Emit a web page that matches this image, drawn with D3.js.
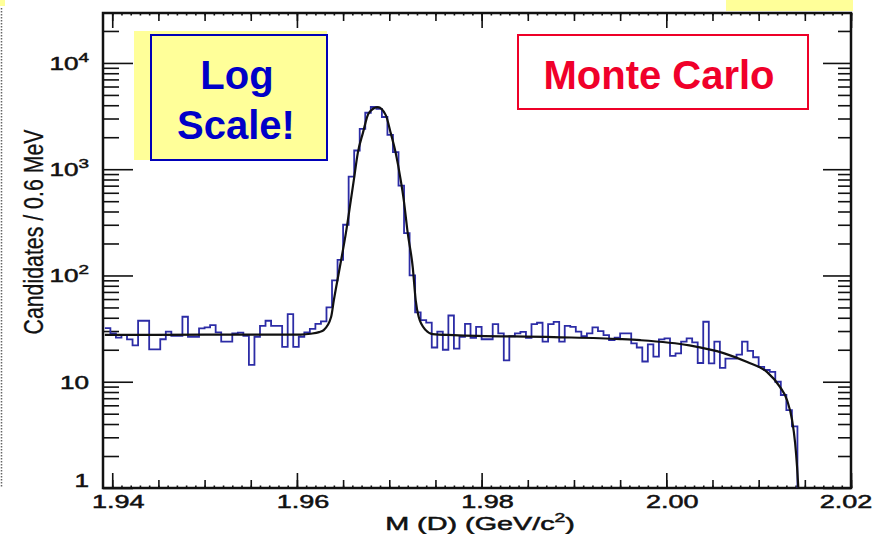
<!DOCTYPE html>
<html><head><meta charset="utf-8">
<script src="https://cdn.jsdelivr.net/npm/d3@7"></script>
<style>body{margin:0;background:#fff}svg{display:block}</style>
</head><body>
<svg id="c" width="887" height="534"></svg>
<script>
// ---- data ----
const binStart = 1.9392;   // GeV, low edge of first bin
const binWidth = 0.0006;   // 0.6 MeV
const counts = [
  32, 28.5, 26, 27.5, 25, 22, 37.5, 37.5, 20.2, 20.2,
  25.1, 29.6, 27.1, 27.1, 40.9, 26.5, 26.5, 31.8, 32.5, 34.1,
  29.2, 23.8, 23.8, 28.5, 29.0, 27.1, 14.4, 26.5, 33.6, 37.5,
  33.6, 33.6, 21.3, 43.3, 21.3, 26.5, 29.2, 31.5, 35, 37,
  50, 90, 140, 300, 850, 1500, 2400, 3400, 3850, 3700,
  3100, 2100, 1450, 700, 250, 100, 45, 38, 36, 21,
  29.6, 20, 42, 20.5, 26.5, 35, 25.9, 32.9, 25.1, 25.1,
  34.9, 28.5, 15.9, 26.8, 28.5, 29.4, 25.9, 34.9, 35.9, 23.8,
  34.9, 36.6, 23.8, 33.6, 32.9, 29.6, 26.8, 28.5, 32.5, 30,
  27.5, 24.7, 26, 28.5, 28.5, 23, 21, 15.5, 22.5, 17.2,
  25, 25.6, 17.5, 18.5, 23.8, 25.6, 23.5, 15, 36.7, 14.9,
  23.8, 13.5, 16.5, 16.5, 18, 23.8, 19.5, 17, 13.8, 12.9,
  12.4, 10, 7.5, 5.4, 3.8
];
const fitMass = [1.9392, 1.9500, 1.9604, 1.9615, 1.9624, 1.9629, 1.9637, 1.9640, 1.96465, 1.9653,
  1.96584, 1.96616, 1.96659, 1.96714, 1.96778, 1.96876, 1.96962, 1.97016, 1.9707, 1.97124,
  1.97157, 1.9720, 1.97254, 1.97286, 1.97319, 1.97395, 1.9747, 1.97697, 1.98778, 1.99503,
  1.99719, 2.0025, 2.0062, 2.00876, 2.01092, 2.01232, 2.01308, 2.01362, 2.01395, 2.01416, 2.0143];
const fitCount = [27.6, 27.7, 27.8, 28.3, 29.3, 30.6, 40.6, 58.7, 120, 250,
  512, 789, 1417, 2186, 3373, 3839, 3228, 2186, 1417, 789,
  512, 250, 120, 58.7, 40.6, 30.6, 28.1, 27.5, 26.3, 25.2,
  24.6, 22, 18.6, 15.3, 12.3, 8.9, 6.7, 4.36, 2.65, 1.58, 1.0];
const xTickValues = [1.94, 1.96, 1.98, 2.00, 2.02];
const xTickLabels = ["1.94", "1.96", "1.98", "2.00", "2.02"];
const yDecades = [1, 10, 100, 1000, 10000];
const yLabelBase = ["1", "10", "10", "10", "10"];
const yLabelExp = ["", "", "2", "3", "4"];

// ---- layout ----
const L = 103, R = 851, T = 13, B = 488;
const svg = d3.select("#c");
const x = d3.scaleLinear().domain([1.9390, 2.0200]).range([L, R]);
const y = d3.scaleLog().domain([1, Math.pow(10, 4.47)]).range([B, T]);

// decorations outside the plot
svg.append("rect").attr("x", 0).attr("y", 0).attr("width", 5).attr("height", 6).attr("fill", "#ffff99");
svg.append("rect").attr("x", 726).attr("y", 0).attr("width", 127).attr("height", 11).attr("fill", "#ffff99");
svg.append("line").attr("x1", 1.5).attr("x2", 1.5).attr("y1", 8).attr("y2", 487)
  .attr("stroke", "#666").attr("stroke-width", 1.5).attr("stroke-dasharray", "1.5,1.5");

const clip = svg.append("clipPath").attr("id", "plotclip");
clip.append("rect").attr("x", L).attr("y", T).attr("width", R - L).attr("height", B - T);

// ---- ticks ----
function styleAxis(g) {
  g.select(".domain").remove();
  g.selectAll("line").attr("stroke", "#111").attr("stroke-width", 1.6);
  g.selectAll("text").remove();
}
const xFine = d3.range(0, 81).map(i => 1.94 + i * 0.001).filter(v => v <= 2.0201);
const xMinor = d3.range(0, 17).map(i => 1.94 + i * 0.005);
// bottom
svg.append("g").attr("transform", `translate(0,${B})`).call(d3.axisBottom(x).tickValues(xFine).tickSizeInner(-2.5).tickSizeOuter(0)).call(styleAxis);
svg.append("g").attr("transform", `translate(0,${B})`).call(d3.axisBottom(x).tickValues(xMinor).tickSizeInner(-8).tickSizeOuter(0)).call(styleAxis);
svg.append("g").attr("transform", `translate(0,${B})`).call(d3.axisBottom(x).tickValues(xTickValues).tickSizeInner(-15).tickSizeOuter(0)).call(styleAxis);
// top
svg.append("g").attr("transform", `translate(0,${T})`).call(d3.axisTop(x).tickValues(xFine).tickSizeInner(-2.5).tickSizeOuter(0)).call(styleAxis);
svg.append("g").attr("transform", `translate(0,${T})`).call(d3.axisTop(x).tickValues(xMinor).tickSizeInner(-8).tickSizeOuter(0)).call(styleAxis);
svg.append("g").attr("transform", `translate(0,${T})`).call(d3.axisTop(x).tickValues(xTickValues).tickSizeInner(-15).tickSizeOuter(0)).call(styleAxis);

const yMinor = [];
yDecades.forEach(d => { for (let k = 2; k <= 9; k++) { const v = d * k; if (v <= y.domain()[1]) yMinor.push(v); } });
svg.append("g").attr("transform", `translate(${L},0)`).call(d3.axisLeft(y).tickValues(yMinor).tickSizeInner(-16).tickSizeOuter(0)).call(styleAxis);
svg.append("g").attr("transform", `translate(${L},0)`).call(d3.axisLeft(y).tickValues(yDecades).tickSizeInner(-30).tickSizeOuter(0)).call(styleAxis);
svg.append("g").attr("transform", `translate(${R},0)`).call(d3.axisRight(y).tickValues(yMinor).tickSizeInner(-13).tickSizeOuter(0)).call(styleAxis);
svg.append("g").attr("transform", `translate(${R},0)`).call(d3.axisRight(y).tickValues(yDecades).tickSizeInner(-28).tickSizeOuter(0)).call(styleAxis);

// frame
svg.append("rect").attr("x", L).attr("y", T).attr("width", R - L).attr("height", B - T)
  .attr("fill", "none").attr("stroke", "#111").attr("stroke-width", 2.5);

// ---- tick labels ----
const labFont = "'Liberation Sans', Arial, Helvetica, sans-serif";
xTickValues.forEach((v, i) => {
  const dx = i === xTickValues.length - 1 ? -5 : 6;
  svg.append("g").attr("transform", `translate(${x(v) + dx},508) scale(1.5,1)`)
    .append("text").attr("text-anchor", "middle").attr("font-family", labFont)
    .attr("font-size", 18).attr("fill", "#111").attr("stroke", "#111").attr("stroke-width", 0.5)
    .text(xTickLabels[i]);
});
yDecades.forEach((v, i) => {
  const by = i === 0 ? y(v) - 1 : y(v) + 7;
  const t = svg.append("g").attr("transform", `translate(89,${by}) scale(1.45,1)`)
    .append("text").attr("text-anchor", "end").attr("font-family", labFont)
    .attr("font-size", 18).attr("fill", "#111").attr("stroke", "#111").attr("stroke-width", 0.5);
  t.append("tspan").text(yLabelBase[i]);
  if (yLabelExp[i]) t.append("tspan").attr("font-size", 13).attr("dy", -8).text(yLabelExp[i]);
});

// axis titles
const xt = svg.append("g").attr("transform", "translate(480,530) scale(1.6,1)")
  .append("text").attr("text-anchor", "middle").attr("font-family", labFont)
  .attr("font-size", 18).attr("fill", "#111").attr("stroke", "#111").attr("stroke-width", 0.5);
xt.append("tspan").text("M (D) (GeV/c");
xt.append("tspan").attr("font-size", 12).attr("dy", -8).text("2");
xt.append("tspan").attr("dy", 8).text(")");

svg.append("text").attr("transform", "translate(43,232) rotate(-90)")
  .attr("text-anchor", "middle").attr("font-family", labFont).attr("font-size", 27)
  .attr("fill", "#111").attr("stroke", "#111").attr("stroke-width", 0.3)
  .attr("textLength", 205).attr("lengthAdjust", "spacingAndGlyphs")
  .text("Candidates / 0.6 MeV");

// ---- histogram ----
const plot = svg.append("g").attr("clip-path", "url(#plotclip)");
const p = d3.path();
counts.forEach((c, i) => {
  const x0 = x(binStart + i * binWidth), x1 = x(binStart + (i + 1) * binWidth);
  if (i === 0) p.moveTo(x0, y(c)); else p.lineTo(x0, y(c));
  p.lineTo(x1, y(c));
});
p.lineTo(x(binStart + counts.length * binWidth), B + 5);
plot.append("path").attr("d", p.toString()).attr("fill", "none")
  .attr("stroke", "#2c2ca6").attr("stroke-width", 1.8).attr("stroke-linejoin", "miter");

// ---- fit ----
const fitPts = fitMass.map((m, i) => [m, fitCount[i]]);
plot.append("path").datum(fitPts)
  .attr("d", d3.line().x(d => x(d[0])).y(d => y(d[1])).curve(d3.curveMonotoneX))
  .attr("fill", "none").attr("stroke", "#111").attr("stroke-width", 2.2);
plot.append("line").attr("x1", x(fitMass[fitMass.length - 1])).attr("x2", x(fitMass[fitMass.length - 1]) + 0.3)
  .attr("y1", y(1)).attr("y2", B + 5).attr("stroke", "#111").attr("stroke-width", 2.2);

// ---- annotation boxes ----
svg.append("rect").attr("x", 134).attr("y", 31).attr("width", 193).attr("height", 129).attr("fill", "#ffff99");
svg.append("rect").attr("x", 151).attr("y", 35).attr("width", 176).attr("height", 125)
  .attr("fill", "none").attr("stroke", "#0000b8").attr("stroke-width", 2);
const boxFont = "'Liberation Sans', Arial, Helvetica, sans-serif";
svg.append("text").attr("x", 237).attr("y", 89).attr("text-anchor", "middle").attr("font-family", boxFont)
  .attr("font-weight", "bold").attr("font-size", 40).attr("fill", "#0000c8").text("Log");
svg.append("text").attr("x", 236).attr("y", 139).attr("text-anchor", "middle").attr("font-family", boxFont)
  .attr("font-weight", "bold").attr("font-size", 40).attr("fill", "#0000c8").text("Scale!");

svg.append("rect").attr("x", 518).attr("y", 35).attr("width", 290).attr("height", 74)
  .attr("fill", "#fff").attr("stroke", "#ee0028").attr("stroke-width", 2);
svg.append("text").attr("x", 659).attr("y", 89).attr("text-anchor", "middle").attr("font-family", boxFont)
  .attr("font-weight", "bold").attr("font-size", 40).attr("fill", "#f0002a").text("Monte Carlo");
</script>
</body></html>
